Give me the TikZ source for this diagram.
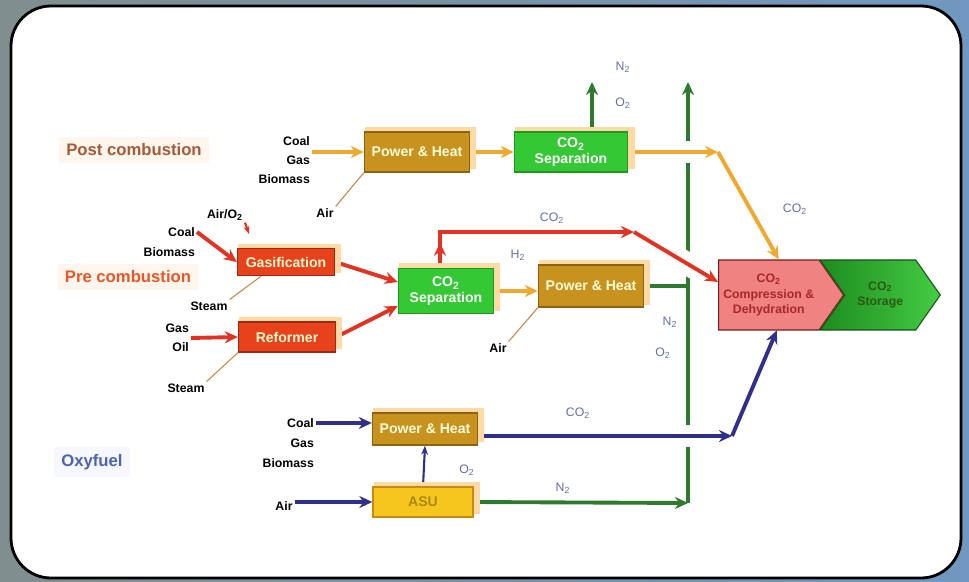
\documentclass[tikz,border=0pt]{standalone}
\usepackage{fontspec}
\setmainfont{Liberation Sans}
\usetikzlibrary{arrows.meta,positioning,calc,shapes.symbols,shadows,backgrounds}
\definecolor{FrameGray}{RGB}{128,142,142}
\definecolor{FrameBlue}{RGB}{112,152,192}
\definecolor{PostBrown}{HTML}{A65A3A}
\definecolor{PreOrange}{HTML}{E8562A}
\definecolor{OxyBlue}{HTML}{4A64B0}
\definecolor{HeatGold}{HTML}{C8921E}
\definecolor{HeatEdge}{HTML}{8C6410}
\definecolor{SepGreen}{HTML}{34C834}
\definecolor{SepEdge}{HTML}{1F9A1F}
\definecolor{ReactRed}{HTML}{E8421C}
\definecolor{ReactEdge}{HTML}{A02810}
\definecolor{AsuGold}{HTML}{F6C61C}
\definecolor{AsuEdge}{HTML}{C88A10}
\definecolor{AsuText}{HTML}{A88A10}
\definecolor{CompPink}{HTML}{F08282}
\definecolor{CompText}{HTML}{A82828}
\definecolor{StoreDark}{HTML}{1E8C1E}
\definecolor{StoreLight}{HTML}{44CC44}
\definecolor{StoreText}{HTML}{2A5A10}
\definecolor{StreamOrange}{HTML}{F0A830}
\definecolor{StreamRed}{HTML}{E23222}
\definecolor{StreamBlue}{HTML}{30308C}
\definecolor{StreamGreen}{HTML}{2E7A2E}
\definecolor{FeedBrown}{HTML}{C8864A}
\definecolor{GasLabel}{HTML}{6470A4}
\definecolor{Glow}{HTML}{FFD9A6}
\newcommand{\cotwo}{CO\textsubscript{2}}

\begin{document}
\begin{tikzpicture}[x=0.02cm,y=-0.02cm,
    plant/.style={draw,line width=0.8pt,minimum height=0.8cm,align=center,
      inner sep=1pt,font=\fontsize{8}{9}\selectfont\bfseries,
      general shadow={fill=Glow,shadow xshift=2pt,shadow yshift=2pt,shadow scale=1.06}},
    heatbox/.style={plant,fill=HeatGold,draw=HeatEdge,text=yellow!15,minimum width=2.1cm},
    sepbox/.style={plant,fill=SepGreen,draw=SepEdge,text=white,minimum width=2.26cm},
    reactor/.style={plant,fill=ReactRed,draw=ReactEdge,text=yellow!20,minimum width=1.94cm},
    fuel/.style={font=\fontsize{7}{10.6}\selectfont\bfseries,align=right,inner sep=1pt},
    gas/.style={font=\fontsize{7}{8}\selectfont,text=GasLabel,inner sep=1pt},
    route/.style={font=\fontsize{9.5}{11}\selectfont\bfseries,inner sep=4pt},
    flow/.style={line width=2.2pt,-{Stealth[length=2.6mm,width=2.4mm]}},
    feed/.style={draw=FeedBrown,line width=0.6pt},
    bridge/.style={preaction={draw=white,line width=13pt,-}}
  ]
    \useasboundingbox (0,0) rectangle (969,581);

    \node[route,text=PostBrown,fill=Glow!20] (post) at (134,150) {Post combustion};
    \node[route,text=PreOrange,fill=Glow!20] (pre) at (128,277) {Pre combustion};
    \node[route,text=OxyBlue,fill=blue!3] (oxy) at (92,462) {Oxyfuel};

    \node[fuel,anchor=east] (fuelpost) at (312,160) {Coal\\Gas\\Biomass};
    \node[fuel] (airpost) at (325,213) {Air};
    \node[heatbox] (phpost) at (417,152) {Power \& Heat};
    \node[sepbox] (seppost) at (571,152) {\cotwo\\Separation};
    \node[gas] (n2post) at (623,67) {N\textsubscript{2}};
    \node[gas] (o2post) at (623,103) {O\textsubscript{2}};
    \node[gas] (co2post) at (795,209) {\cotwo};

    \node[fuel] (airo2) at (225,215) {Air/O\textsubscript{2}};
    \node[fuel,anchor=east] (coalpre) at (197,232) {Coal};
    \node[fuel,anchor=east] (biopre) at (197,252) {Biomass};
    \node[fuel] (steamgas) at (209,306) {Steam};
    \node[fuel,anchor=east] (oilgas) at (191,338) {Gas\\Oil};
    \node[fuel] (steamref) at (186,388) {Steam};
    \node[reactor,minimum height=0.54cm] (gasif) at (286,262) {Gasification};
    \node[reactor,minimum height=0.6cm] (reform) at (287,337) {Reformer};
    \node[sepbox,minimum width=1.9cm,minimum height=0.9cm] (seppre) at (446,291) {\cotwo\\Separation};
    \node[heatbox,minimum height=0.84cm] (phpre) at (591,286) {Power \& Heat};
    \node[fuel] (airpre) at (498,348) {Air};
    \node[gas] (h2) at (518,255) {H\textsubscript{2}};
    \node[gas] (co2pre) at (552,218) {\cotwo};
    \node[gas] (n2pre) at (670,322) {N\textsubscript{2}};
    \node[gas] (o2pre) at (663,353) {O\textsubscript{2}};

    \node[fuel,anchor=east] (coaloxy) at (316,423) {Coal};
    \node[fuel,anchor=east] (gasoxy) at (316,443) {Gas};
    \node[fuel,anchor=east] (biooxy) at (316,463) {Biomass};
    \node[fuel] (airoxy) at (284,506) {Air};
    \node[heatbox,minimum height=0.64cm] (phoxy) at (425,429) {Power \& Heat};
    \node[plant,fill=AsuGold,draw=AsuEdge,text=AsuText,minimum width=2cm,
      minimum height=0.6cm] (asu) at (423,502) {ASU};
    \node[gas] (co2oxy) at (578,413) {\cotwo};
    \node[gas] (o2oxy) at (467,470) {O\textsubscript{2}};
    \node[gas] (n2oxy) at (563,488) {N\textsubscript{2}};

    \node[signal,signal to=east,signal pointer angle=110,anchor=west,
      draw=CompText!70!black,fill=CompPink,text=CompText,line width=0.6pt,
      minimum width=2.5cm,minimum height=1.4cm,inner sep=0pt,align=center,
      font=\fontsize{7}{9}\selectfont\bfseries] (comp) at (718,295)
      {\cotwo\\Compression \&\\Dehydration};
    \node[signal,signal from=west,signal to=east,signal pointer angle=110,
      draw=StoreDark!60!black,left color=StoreDark,right color=StoreLight,
      text=StoreText,line width=0.6pt,minimum width=2.4cm,minimum height=1.4cm,
      inner sep=0pt,align=center,font=\fontsize{7}{9}\selectfont\bfseries,
      right=0pt of comp] (store) {\cotwo\\Storage};

    \coordinate (ventpost) at (592,82);
    \coordinate (venttop) at (688,82);
    \coordinate (n2corner) at (688,503);
    \coordinate (bendpost) at (718,152);
    \coordinate (riseco2) at (440,232);
    \coordinate (bendpre) at (634,232);
    \coordinate (bendoxy) at (732,436);
    \coordinate (airo2tip) at (249,234);

    \begin{scope}[on background layer]
      \shade[left color=FrameGray,right color=FrameBlue] (0,0) rectangle (969,581);
      \draw[line width=1.6pt,fill=white,rounded corners=0.8cm] (11,6) rectangle (961,578);

      \draw[flow,StreamGreen] (asu.east) -- (n2corner);
      \draw[flow,StreamGreen] (n2corner) -- (venttop);
      \draw[StreamGreen,line width=2.2pt] (phpre.east) -- (phpre.east -| venttop);
      \draw[flow,StreamGreen] (seppost.north -| ventpost) -- (ventpost);

      \draw[flow,StreamOrange] (fuelpost.east |- phpost.west) -- (phpost.west);
      \draw[flow,StreamOrange] (phpost.east) -- (seppost.west);
      \draw[flow,StreamOrange,bridge] (seppost.east) -- (bendpost);
      \draw[flow,StreamOrange] (bendpost) -- ([xshift=0.2cm]comp.north);
      \draw[feed] (airpost.north east) -- (phpost.south west);

      \draw[StreamRed,line width=1.2pt,-{Stealth[length=1.6mm]}] (airo2.south east) -- (airo2tip);
      \draw[flow,StreamRed] (coalpre.east) -- (gasif.west);
      \draw[flow,StreamRed] (oilgas.east) -- (reform.west);
      \draw[feed] (steamgas.north east) -- ([xshift=-0.5cm]gasif.south);
      \draw[feed] (steamref.north east) -- (reform.south west);
      \draw[flow,StreamRed] (gasif.east) -- ([yshift=0.18cm]seppre.west);
      \draw[flow,StreamRed] (reform.east) -- ([yshift=-0.3cm]seppre.west);
      \draw[flow,StreamRed,bridge] (bendpre) -- ([yshift=0.26cm]comp.west);
      \draw[flow,StreamRed] (seppre.north -| riseco2) -- (riseco2) -- (bendpre);
      \draw[flow,StreamRed] (seppre.north -| riseco2) -- ($(seppre.north -| riseco2)!0.7!(riseco2)$);
      \draw[flow,StreamOrange] (seppre.east) -- (seppre.east -| phpre.west);
      \draw[feed] (airpre.north east) -- (phpre.south west);

      \draw[flow,StreamBlue] (coaloxy.east) -- (coaloxy.east -| phoxy.west);
      \draw[flow,StreamBlue] (airoxy.east |- asu.west) -- (asu.west);
      \draw[StreamBlue,line width=1.2pt,-{Stealth[length=1.8mm]}] (asu.north) -- (phoxy.south);
      \draw[flow,StreamBlue,bridge] (phoxy.east |- bendoxy) -- (bendoxy);
      \draw[flow,StreamBlue] (bendoxy) -- ([xshift=0.16cm]comp.south);
    \end{scope}
\end{tikzpicture}
\end{document}
